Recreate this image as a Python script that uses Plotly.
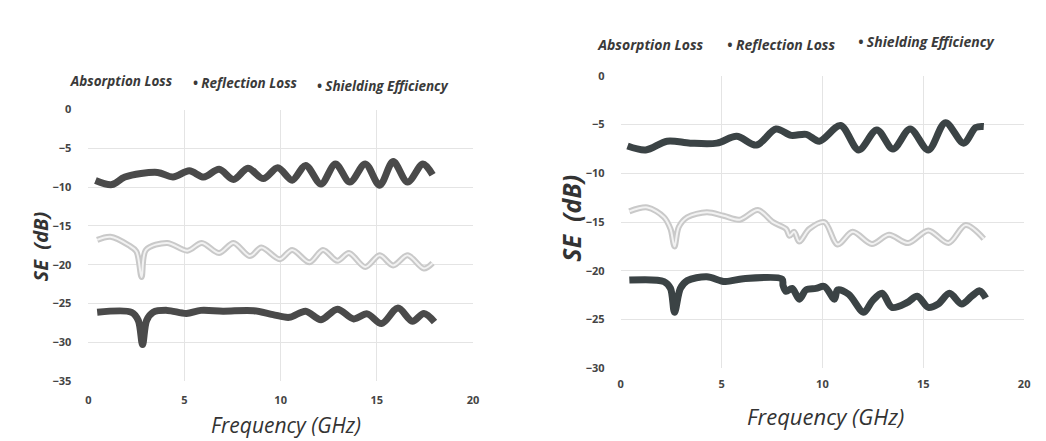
import plotly.graph_objects as go

# ---------------- Left panel data ----------------
L_abs_x = [0.37, 1.23, 1.9, 3.6, 4.4, 5.25, 6.0, 6.8, 7.55, 8.3, 9.1, 9.85, 10.6, 11.3, 12.1,
           12.85, 13.6, 14.4, 15.15, 15.85, 16.6, 17.4, 17.9]
L_abs_y = [-9.13, -9.67, -8.7, -8.1, -8.7, -7.9, -8.7, -7.7, -9.0, -7.55, -8.9, -7.5, -9.1, -7.2,
           -9.6, -7.0, -9.35, -7.0, -9.75, -6.7, -9.35, -7.0, -8.4]

L_ref_x = [0.46, 1.15, 2.1, 2.5, 2.77, 3.0, 4.1, 5.15, 5.9, 6.8, 7.55, 8.4, 9.0, 9.95, 10.6, 11.5,
           12.2, 12.95, 13.55, 14.4, 15.15, 15.85, 16.6, 17.45, 17.9]
L_ref_y = [-16.8, -16.4, -17.5, -18.3, -21.6, -18.1, -17.2, -18.2, -17.2, -18.5, -17.2, -18.9, -17.8,
           -19.3, -18.1, -19.7, -18.1, -19.5, -18.5, -20.3, -18.8, -20.1, -18.8, -20.5, -19.8]

L_se_x = [0.46, 2.25, 2.6, 2.82, 3.03, 3.37, 4.1, 5.1, 5.85, 7.0, 8.6, 9.6, 10.45, 11.3, 12.1, 12.95,
          13.8, 14.5, 15.25, 16.1, 16.85, 17.45, 18.0]
L_se_y = [-26.15, -26.15, -27.2, -30.3, -27.2, -26.15, -25.9, -26.3, -25.9, -26.0, -25.95, -26.45,
          -26.8, -26.0, -27.1, -25.75, -27.0, -26.35, -27.6, -25.6, -27.3, -26.3, -27.4]

# ---------------- Right panel data ----------------
R_abs_x = [0.34, 1.24, 2.3, 3.45, 4.77, 5.75, 6.73, 7.7, 8.45, 9.2, 9.85, 10.9, 11.8, 12.7, 13.5,
           14.35, 15.25, 16.1, 17.0, 17.6, 18.0]
R_abs_y = [-7.2, -7.6, -6.7, -6.9, -6.9, -6.2, -7.1, -5.45, -6.1, -6.0, -6.7, -5.1, -7.6, -5.55,
           -7.5, -5.45, -7.6, -4.8, -6.9, -5.3, -5.2]

R_ref_x = [0.43, 1.33, 2.15, 2.47, 2.67, 2.88, 3.3, 4.27, 5.1, 5.9, 6.8, 7.55, 8.2, 8.37, 8.6, 8.85,
           9.35, 10.1, 10.75, 11.5, 12.45, 13.3, 14.25, 15.25, 16.25, 17.1, 18.0]
R_ref_y = [-13.9, -13.5, -14.5, -15.7, -17.5, -15.5, -14.5, -14.0, -14.35, -14.75, -13.75, -15.0,
           -15.7, -16.4, -16.0, -17.0, -15.7, -15.0, -17.3, -16.0, -17.25, -16.3, -17.15, -15.85,
           -17.15, -15.3, -16.7]

R_se_x = [0.43, 2.15, 2.47, 2.67, 2.96, 3.3, 4.27, 5.17, 6.08, 8.0, 8.05, 8.2, 8.5, 8.86, 9.19, 9.68,
          10.1, 10.6, 10.75, 11.3, 12.05, 12.47, 12.96, 13.45, 14.2, 14.7, 15.25, 15.74, 16.3, 16.9,
          17.4, 17.8, 18.1]
R_se_y = [-20.95, -21.1, -21.8, -24.25, -21.8, -21.0, -20.6, -21.1, -20.8, -20.85, -21.5, -22.1,
          -21.8, -22.9, -21.95, -21.8, -21.6, -22.9, -21.95, -22.4, -24.25, -23.1, -22.3, -23.75,
          -23.25, -22.6, -23.75, -23.4, -22.3, -23.4, -22.6, -22.05, -22.8]

series_names = ["Absorption Loss", "• Reflection Loss", "• Shielding Efficiency"]

DARK = "#4a4a4a"
DARK_R = "#3b4345"
LIGHT = "#c9c9c9"
LIGHT_IN = "#f2f2f2"
FONT = "Open Sans"

# page offset (default body margin of the html page)
OFF = 8
W, H = 1038, 433
def px(v): return (v - OFF) / W
def py(v): return 1 - (v - OFF) / H

fig = go.Figure()

def add_panel(xa, ya, abs_x, abs_y, ref_x, ref_y, se_x, se_y, dark, leg_ids):
    sp = dict(shape="spline", smoothing=0.9)
    fig.add_trace(go.Scatter(x=abs_x, y=abs_y, mode="lines", line=dict(color=dark, width=7, **sp),
                             xaxis=xa, yaxis=ya, showlegend=False))
    fig.add_trace(go.Scatter(x=ref_x, y=ref_y, mode="lines", line=dict(color=LIGHT, width=6, **sp),
                             xaxis=xa, yaxis=ya, showlegend=False))
    fig.add_trace(go.Scatter(x=ref_x, y=ref_y, mode="lines", line=dict(color=LIGHT_IN, width=2, **sp),
                             xaxis=xa, yaxis=ya, showlegend=False))
    fig.add_trace(go.Scatter(x=se_x, y=se_y, mode="lines", line=dict(color=dark, width=7, **sp),
                             xaxis=xa, yaxis=ya, showlegend=False))
    for name, lid in zip(series_names, leg_ids):
        fig.add_trace(go.Scatter(x=[None], y=[None], mode="markers", name=name,
                                 marker=dict(color="rgba(0,0,0,0)", size=2),
                                 xaxis=xa, yaxis=ya, legend=lid, showlegend=True))

add_panel("x", "y", L_abs_x, L_abs_y, L_ref_x, L_ref_y, L_se_x, L_se_y, DARK,
          ["legend", "legend2", "legend3"])
add_panel("x2", "y2", R_abs_x, R_abs_y, R_ref_x, R_ref_y, R_se_x, R_se_y, DARK_R,
          ["legend4", "legend5", "legend6"])

# text start positions (page px), vertical centres and font sizes of legend items
leg_pos = {"legend": (70, 75, 13.5), "legend2": (193, 77, 13.5), "legend3": (318, 80, 13.5),
           "legend4": (602, 38, 14), "legend5": (732, 38, 14), "legend6": (864, 35, 14)}
leg_layout = {}
for lid, (tx, ty, fs) in leg_pos.items():
    leg_layout[lid] = dict(orientation="h", x=px(tx - 42), y=py(ty), xanchor="left", yanchor="middle",
                           font=dict(family=FONT, size=fs, color="#3a3a3a", style="italic", weight="bold"),
                           bgcolor="rgba(0,0,0,0)", itemwidth=30)

tickfont = dict(family=FONT, size=11, color="#444444", weight="bold")
axis_common = dict(showgrid=True, gridcolor="#e4e4e4", gridwidth=1, zeroline=False,
                   showline=False, ticks="", tickfont=tickfont, dtick=5)

fig.update_layout(
    width=W, height=H,
    margin=dict(l=0, r=0, t=0, b=0),
    paper_bgcolor="white", plot_bgcolor="white",
    xaxis=dict(domain=[px(86), px(474)], range=[0, 20], anchor="y", ticklabelstandoff=11, **axis_common),
    yaxis=dict(domain=[py(386), py(105)], range=[-35, 0], anchor="x", ticklabelstandoff=16, **axis_common),
    xaxis2=dict(domain=[px(623), px(1030)], range=[0, 20], anchor="y2", ticklabelstandoff=8, **axis_common),
    yaxis2=dict(domain=[py(373), py(70)], range=[-30, 0], anchor="x2", ticklabelstandoff=15, **axis_common),
    annotations=[
        dict(text="SE  (dB)", x=px(38), y=py(247), xref="paper", yref="paper", showarrow=False,
             xanchor="center", yanchor="middle", textangle=-90,
             font=dict(family=FONT, size=20, color="#333333", style="italic", weight="bold")),
        dict(text="Frequency (GHz)", x=px(285), y=py(432), xref="paper", yref="paper", showarrow=False,
             xanchor="center", yanchor="middle",
             font=dict(family=FONT, size=21, color="#333333", style="italic")),
        dict(text="SE  (dB)", x=px(573), y=py(218), xref="paper", yref="paper", showarrow=False,
             xanchor="center", yanchor="middle", textangle=-90,
             font=dict(family=FONT, size=25, color="#333333", style="italic", weight="bold")),
        dict(text="Frequency (GHz)", x=px(830), y=py(422), xref="paper", yref="paper", showarrow=False,
             xanchor="center", yanchor="middle",
             font=dict(family=FONT, size=22, color="#333333", style="italic")),
    ],
    **leg_layout,
)

fig.write_html("out.html")
